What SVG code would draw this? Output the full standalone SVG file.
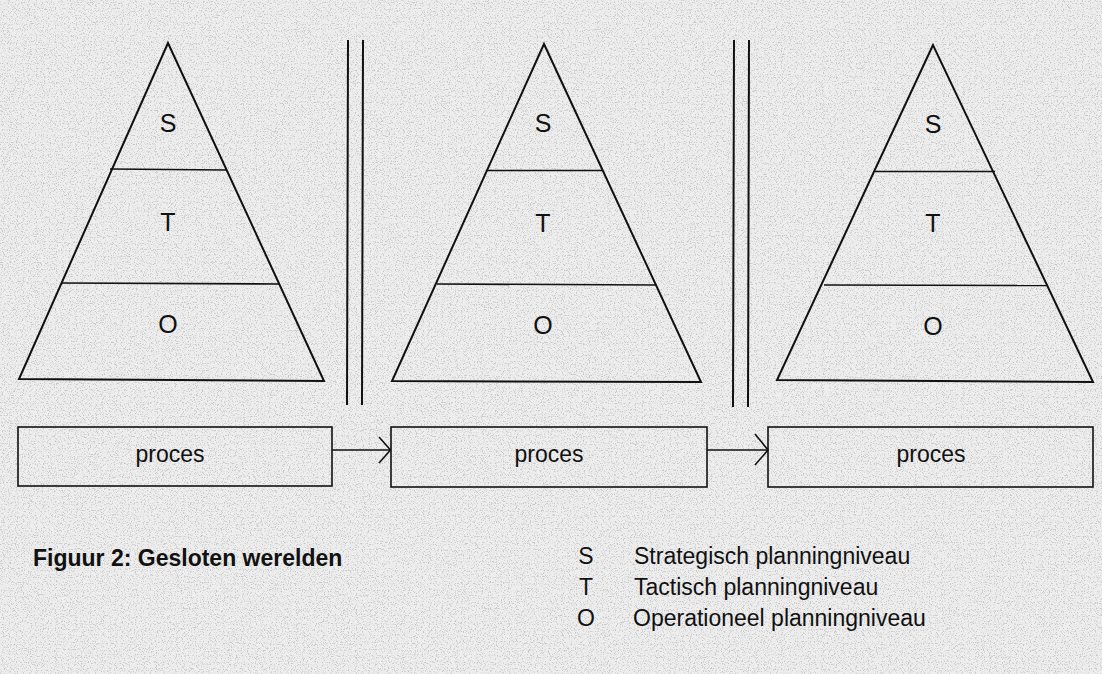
<svg xmlns="http://www.w3.org/2000/svg" width="1102" height="674" viewBox="0 0 1102 674">
  <style>
    .shape { fill: none; stroke: #111; stroke-width: 2; stroke-linejoin: miter; }
    .thin { fill: none; stroke: #111; stroke-width: 1.6; }
    .lvl { font-family: "Liberation Sans", Arial, sans-serif; font-size: 25px; fill: #111; text-anchor: middle; }
    .proc { font-family: "Liberation Sans", Arial, sans-serif; font-size: 23px; fill: #111; text-anchor: middle; }
    .cap { font-family: "Liberation Sans", Arial, sans-serif; font-size: 23px; font-weight: bold; fill: #111; }
    .leg { font-family: "Liberation Sans", Arial, sans-serif; font-size: 23px; fill: #111; }
    .legk { font-family: "Liberation Sans", Arial, sans-serif; font-size: 23px; fill: #111; text-anchor: middle; }
  </style>
  <defs>
    <!-- fine speckle for the scanned-paper ground -->
    <filter id="grain" x="0" y="0" width="100%" height="100%">
      <feTurbulence type="fractalNoise" baseFrequency="0.85" numOctaves="2" seed="7" result="n"/>
      <feColorMatrix in="n" type="matrix" values="0 0 0 0 0.42  0 0 0 0 0.42  0 0 0 0 0.42  5 0 0 0 -2.6"/>
    </filter>
  </defs>

  <!-- paper -->
  <rect x="0" y="0" width="1102" height="674" fill="#eeeeee"/>
  <rect x="0" y="0" width="1102" height="674" filter="url(#grain)" opacity="0.6"/>

  <!-- pyramid 1 -->
  <g id="pyramid-1">
    <polygon class="shape" points="168,43 19,379 324,381"/>
    <line class="thin" x1="110" y1="169" x2="227" y2="170"/>
    <line class="thin" x1="62" y1="283" x2="279" y2="284"/>
    <text class="lvl" x="168" y="132">S</text>
    <text class="lvl" x="168" y="231">T</text>
    <text class="lvl" x="168" y="333">O</text>
  </g>

  <!-- separator 1 -->
  <g id="separator-1">
    <line class="shape" x1="348" y1="40" x2="347" y2="405"/>
    <line class="shape" x1="363" y1="40" x2="362" y2="405"/>
  </g>

  <!-- pyramid 2 -->
  <g id="pyramid-2">
    <polygon class="shape" points="544,44 392,381 701,382"/>
    <line class="thin" x1="487" y1="170.5" x2="603" y2="170.5"/>
    <line class="thin" x1="437" y1="284" x2="656" y2="285"/>
    <text class="lvl" x="543" y="132">S</text>
    <text class="lvl" x="543" y="232">T</text>
    <text class="lvl" x="543" y="334">O</text>
  </g>

  <!-- separator 2 -->
  <g id="separator-2">
    <line class="shape" x1="734" y1="40" x2="733" y2="407"/>
    <line class="shape" x1="749" y1="40" x2="748" y2="407"/>
  </g>

  <!-- pyramid 3 -->
  <g id="pyramid-3">
    <polygon class="shape" points="933,45 777,380 1093,382"/>
    <line class="thin" x1="875" y1="171.5" x2="995" y2="171.5"/>
    <line class="thin" x1="824" y1="285" x2="1047" y2="285.5"/>
    <text class="lvl" x="933" y="133">S</text>
    <text class="lvl" x="933" y="232">T</text>
    <text class="lvl" x="933" y="335">O</text>
  </g>

  <!-- process boxes -->
  <g id="proces-1">
    <rect class="thin" x="18" y="427" width="314" height="59"/>
    <text class="proc" x="170" y="462">proces</text>
  </g>
  <g id="proces-2">
    <rect class="thin" x="391" y="427" width="316" height="60"/>
    <text class="proc" x="549" y="462">proces</text>
  </g>
  <g id="proces-3">
    <rect class="thin" x="768" y="427" width="325" height="60"/>
    <text class="proc" x="931" y="462">proces</text>
  </g>

  <!-- flow between processes -->
  <g id="connectors">
    <line class="thin" x1="332" y1="450" x2="390" y2="450"/>
    <polyline class="thin" points="379,437 390.5,450 379,463"/>
    <line class="thin" x1="707" y1="450" x2="767" y2="450"/>
    <polyline class="thin" points="755,434 768,450 755,465"/>
  </g>

  <!-- caption -->
  <text class="cap" x="33" y="566">Figuur 2: Gesloten werelden</text>

  <!-- legend -->
  <g id="legend">
    <text class="legk" x="586" y="564">S</text>
    <text class="leg" x="634" y="564">Strategisch planningniveau</text>
    <text class="legk" x="586" y="595">T</text>
    <text class="leg" x="634" y="595">Tactisch planningniveau</text>
    <text class="legk" x="586" y="626">O</text>
    <text class="leg" x="633" y="626">Operationeel planningniveau</text>
  </g>
</svg>
